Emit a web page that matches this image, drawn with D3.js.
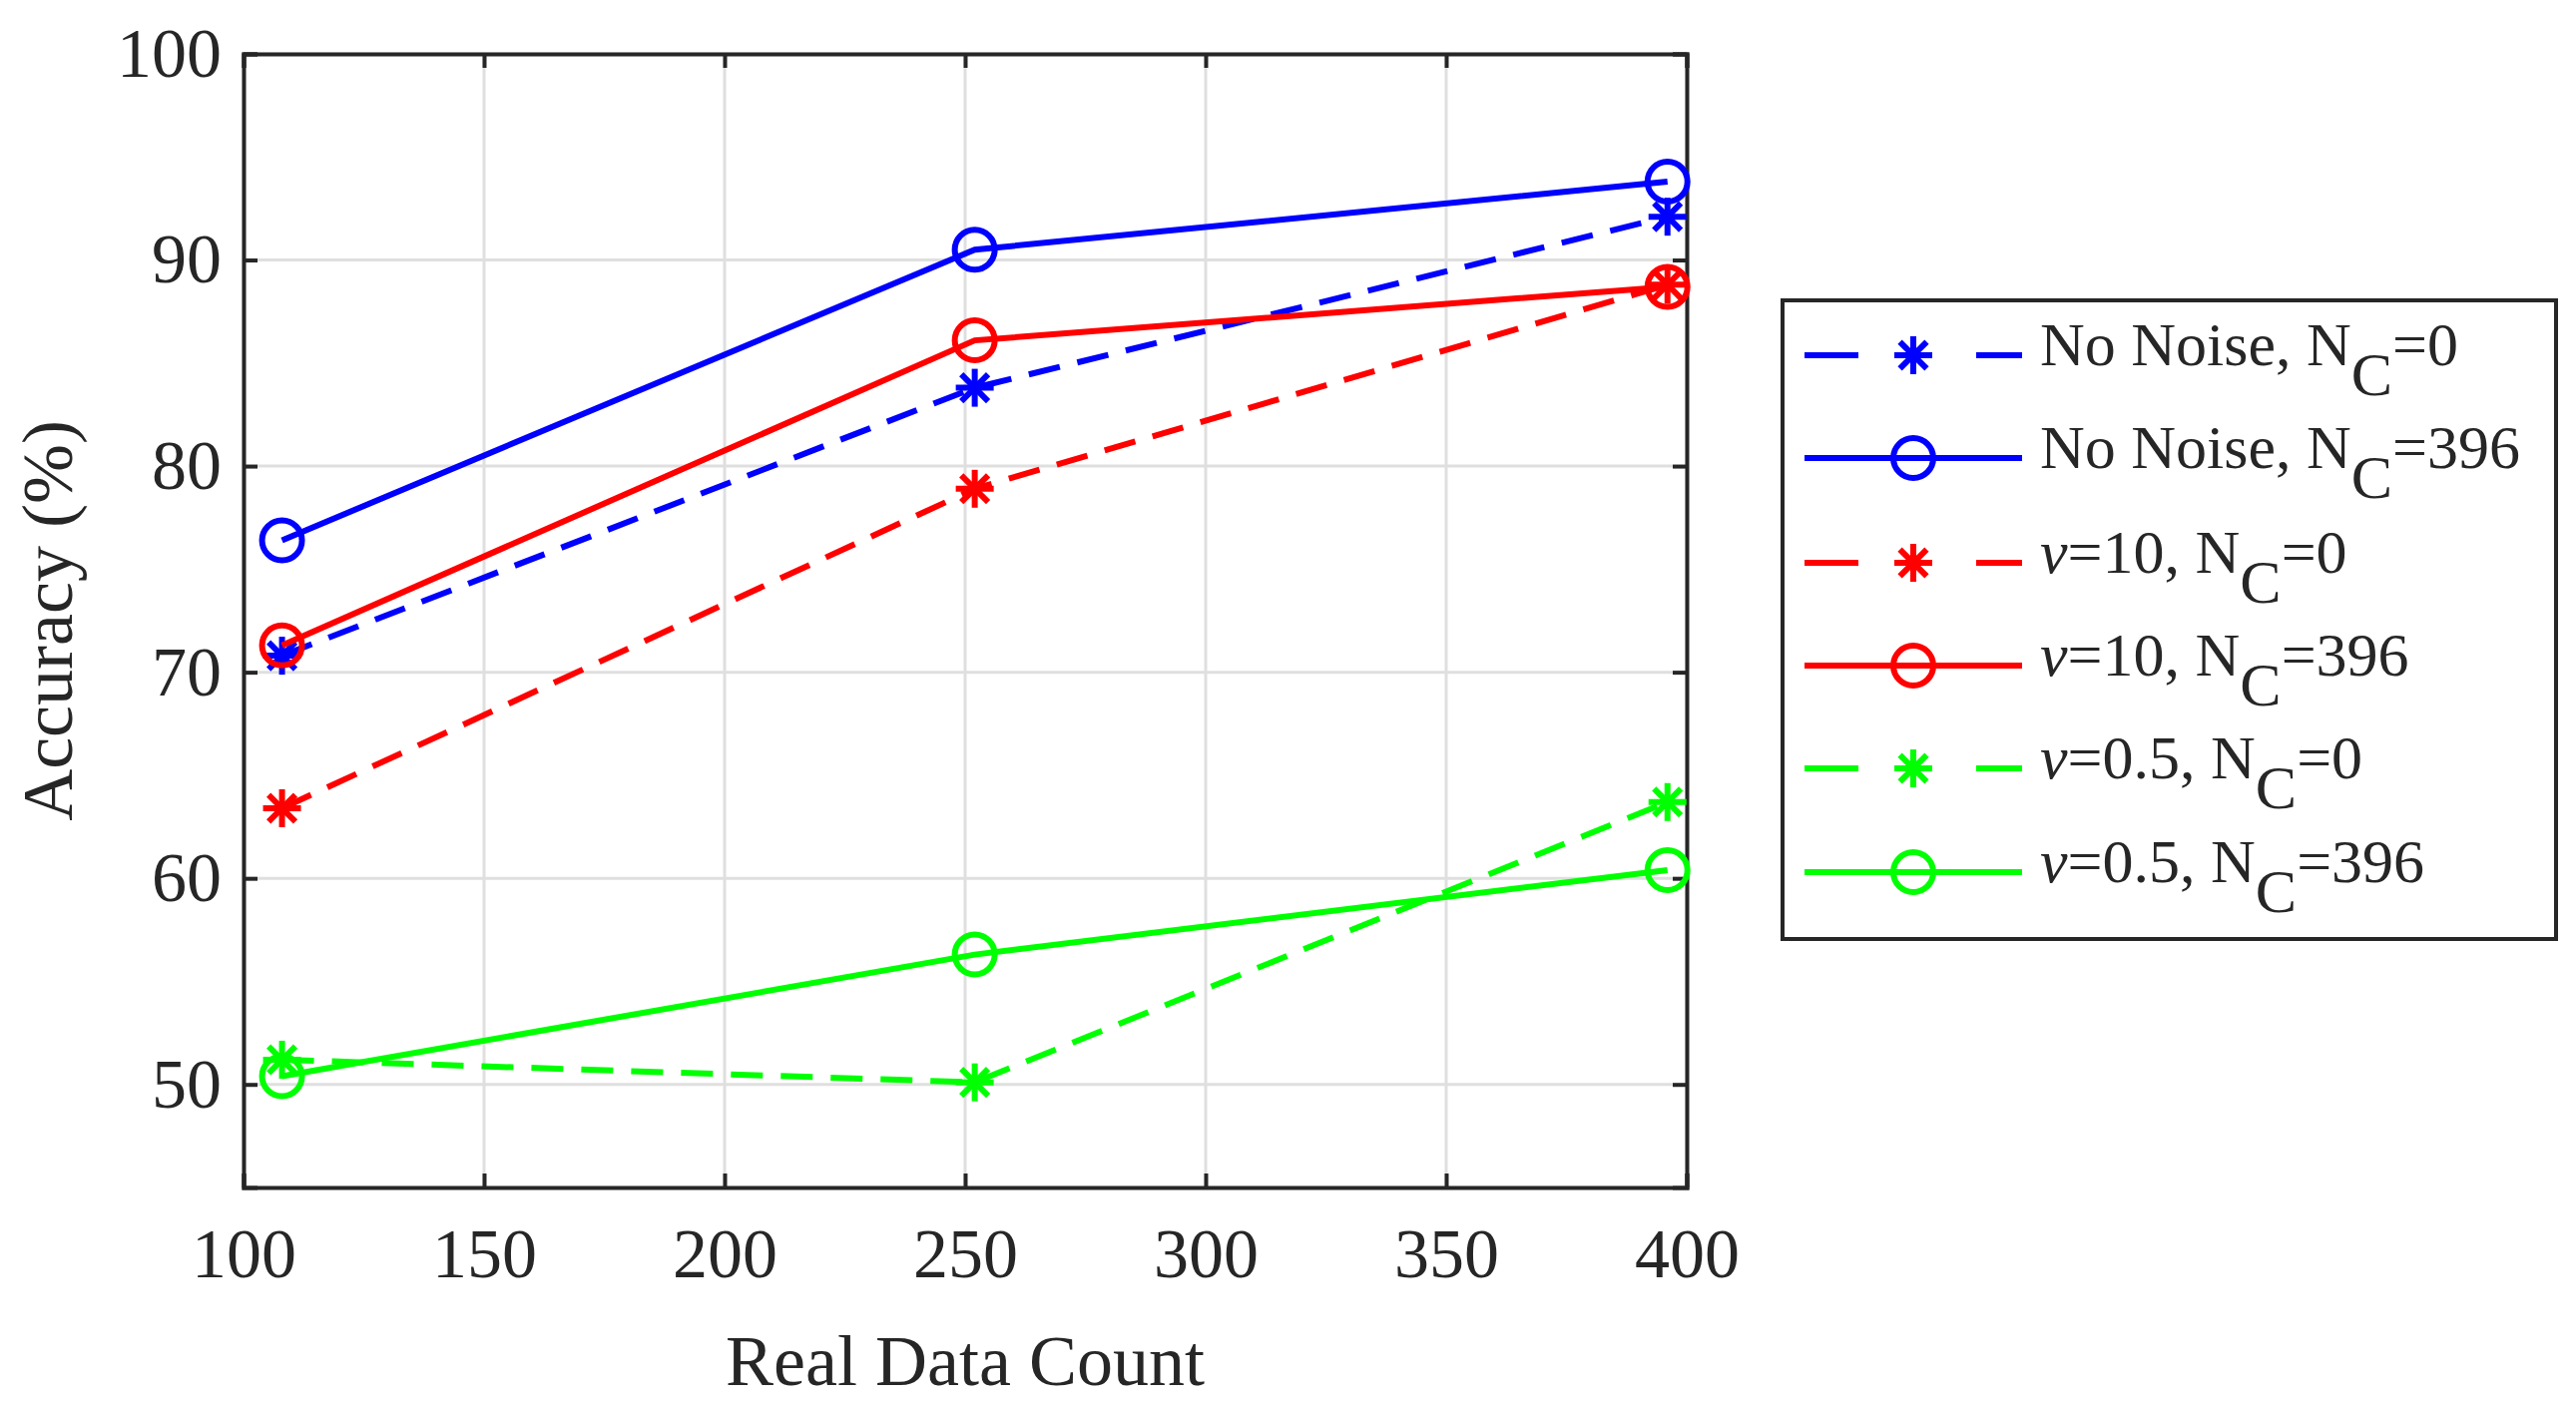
<!DOCTYPE html>
<html><head><meta charset="utf-8">
<script src="https://cdn.jsdelivr.net/npm/d3@7"></script>
<style>body{margin:0;background:#fff}text{font-family:"Liberation Serif","DejaVu Serif",serif;fill:#262626}</style>
</head><body><svg id="c" width="2581" height="1410"></svg>
<script>
// data
var counts = [108, 252, 396];
var noNoise0 = [70.8, 83.8, 92.1];
var noNoise396 = [76.4, 90.5, 93.8];
var nu10_0 = [63.4, 78.9, 88.8];
var nu10_396 = [71.3, 86.1, 88.7];
var nu05_0 = [51.2, 50.1, 63.7];
var nu05_396 = [50.4, 56.3, 60.4];
var xTicks = [100, 150, 200, 250, 300, 350, 400];
var yTicks = [50, 60, 70, 80, 90, 100];

var series = [
  {v: noNoise0, c: "#0000ff", dash: true, m: "star", pre: "No Noise, N", post: "=0", nu: false},
  {v: noNoise396, c: "#0000ff", dash: false, m: "circle", pre: "No Noise, N", post: "=396", nu: false},
  {v: nu10_0, c: "#ff0000", dash: true, m: "star", pre: "=10, N", post: "=0", nu: true},
  {v: nu10_396, c: "#ff0000", dash: false, m: "circle", pre: "=10, N", post: "=396", nu: true},
  {v: nu05_0, c: "#00ff00", dash: true, m: "star", pre: "=0.5, N", post: "=0", nu: true},
  {v: nu05_396, c: "#00ff00", dash: false, m: "circle", pre: "=0.5, N", post: "=396", nu: true}
];

var svg = d3.select("#c");
var L = 244, R = 1690, T = 54, B = 1190;
var x = d3.scaleLinear().domain([100, 400]).range([L, R]);
var y = d3.scaleLinear().domain([45, 100]).range([B, T]);

// grid
svg.selectAll(".gx").data(xTicks).enter().append("line")
  .attr("x1", d => x(d)).attr("x2", d => x(d)).attr("y1", T).attr("y2", B)
  .attr("stroke", "#dfdfdf").attr("stroke-width", 3);
svg.selectAll(".gy").data(yTicks).enter().append("line")
  .attr("y1", d => y(d)).attr("y2", d => y(d)).attr("x1", L).attr("x2", R)
  .attr("stroke", "#dfdfdf").attr("stroke-width", 3);

var ax = svg.append("g").attr("transform", "translate(0," + B + ")")
  .call(d3.axisBottom(x).tickValues(xTicks).tickSize(-14).tickPadding(40));
var ax2 = svg.append("g").attr("transform", "translate(0," + T + ")")
  .call(d3.axisTop(x).tickValues(xTicks).tickSize(-14).tickFormat(""));
var ay = svg.append("g").attr("transform", "translate(" + L + ",0)")
  .call(d3.axisLeft(y).tickValues(yTicks).tickSize(-14).tickPadding(22));
var ay2 = svg.append("g").attr("transform", "translate(" + R + ",0)")
  .call(d3.axisRight(y).tickValues(yTicks).tickSize(-14).tickFormat(""));
[ax, ax2, ay, ay2].forEach(function(g) {
  g.selectAll("path").attr("stroke", "#262626").attr("stroke-width", 4);
  g.selectAll("line").attr("stroke", "#262626").attr("stroke-width", 4);
  g.selectAll("text").style("font-size", "70px").attr("fill", "#262626");
});
ax.selectAll("text").attr("dy", "0.71em");

svg.append("text").attr("x", (L + R) / 2).attr("y", 1388).attr("text-anchor", "middle")
  .style("font-size", "72px").text("Real Data Count");
svg.append("text").attr("transform", "translate(72," + (T + B) / 2 + ") rotate(-90)")
  .attr("text-anchor", "middle").style("font-size", "72px").text("Accuracy (%)");

function star(g, cx, cy, col, r) {
  for (var k = 0; k < 4; k++) {
    var a = k * Math.PI / 4;
    g.append("line").attr("x1", cx - r * Math.cos(a)).attr("y1", cy - r * Math.sin(a))
      .attr("x2", cx + r * Math.cos(a)).attr("y2", cy + r * Math.sin(a))
      .attr("stroke", col).attr("stroke-width", 6);
  }
}
function marker(g, s, cx, cy) {
  if (s.m === "star") star(g, cx, cy, s.c, 19);
  else g.append("circle").attr("cx", cx).attr("cy", cy).attr("r", 20)
    .attr("fill", "none").attr("stroke", s.c).attr("stroke-width", 6);
}

var line = d3.line().x((d, i) => x(counts[i])).y(d => y(d));
series.forEach(function(s) {
  svg.append("path").datum(s.v).attr("d", line).attr("fill", "none")
    .attr("stroke", s.c).attr("stroke-width", 6)
    .attr("stroke-dasharray", s.dash ? "32,18" : null);
  var g = svg.append("g");
  s.v.forEach(function(d, i) { marker(g, s, x(counts[i]), y(d)); });
});

// legend
var lg = svg.append("g");
lg.append("rect").attr("x", 1786).attr("y", 301).attr("width", 775).attr("height", 640)
  .attr("fill", "#fff").attr("stroke", "#262626").attr("stroke-width", 4);
var rowY = [356, 459, 564, 667, 770, 874];
series.forEach(function(s, i) {
  var yy = rowY[i];
  if (s.dash) {
    lg.append("line").attr("x1", 1808).attr("x2", 1862).attr("y1", yy).attr("y2", yy).attr("stroke", s.c).attr("stroke-width", 6);
    lg.append("line").attr("x1", 1980).attr("x2", 2026).attr("y1", yy).attr("y2", yy).attr("stroke", s.c).attr("stroke-width", 6);
  } else {
    lg.append("line").attr("x1", 1808).attr("x2", 2026).attr("y1", yy).attr("y2", yy).attr("stroke", s.c).attr("stroke-width", 6);
  }
  marker(lg, s, 1917, yy);
  var t = lg.append("text").attr("x", 2044).attr("y", yy + 10).style("font-size", "62px").attr("fill", "#000");
  if (s.nu) t.append("tspan").style("font-style", "italic").text("ν");
  t.append("tspan").text(s.pre);
  t.append("tspan").attr("dy", 30).text("C");
  t.append("tspan").attr("dy", -30).text(s.post);
});
</script></body></html>
